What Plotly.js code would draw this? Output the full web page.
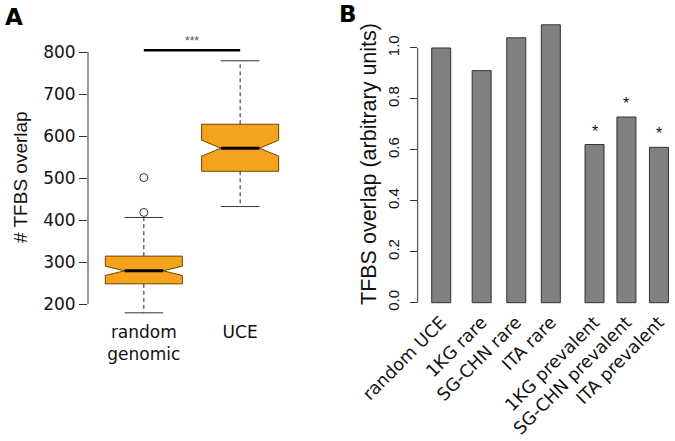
<!DOCTYPE html>
<html>
<head>
<meta charset="utf-8">
<script src="https://cdn.plot.ly/plotly-3.0.1.min.js"></script>
<style>html,body{margin:0;padding:0;background:#fff;}#chart{width:675px;height:441px;}</style>
</head>
<body>
<div id="chart"></div>
<script>
// ---------- Panel A data (box plot summary statistics) ----------
const boxCategories = ["random<br>genomic", "UCE"];
const boxLowerWhisker = [179, 432];
const boxQ1 = [248, 516];
const boxMedian = [279, 571];
const boxQ3 = [314, 628];
const boxUpperWhisker = [406, 779];
const boxNotchSpan = [11, 19];
const outliersRandom = [418, 501];
const yTicksA = [200, 300, 400, 500, 600, 700, 800];
const sigLevelA = 804;
const sigLabelA = "***";
const titleA = "# TFBS overlap";

// ---------- Panel B data ----------
const barCategories = ["random UCE", "1KG rare", "SG-CHN rare", "ITA rare",
  "1KG prevalent", "SG-CHN prevalent", "ITA prevalent"];
const barValues = [1.0, 0.911, 1.040, 1.091, 0.621, 0.729, 0.610];
const barMarks = ["", "", "", "", "*", "*", "*"];
const yTicksB = [0.0, 0.2, 0.4, 0.6, 0.8, 1.0];
const titleB = "TFBS overlap (arbitrary units)";

// ---------- layout/style constants ----------
const barSpaces = [0, 2.13, 1.82, 1.82, 2.30, 1.68, 1.71]; // spacing between bar centres (bar widths)
const boxHalf = 0.4, capHalf = 0.2, medHalf = 0.2;
const orange = "#F5A21C", boxEdge = "#6a4608";
const W = 675, H = 441;
const wide = "DejaVu Sans, Verdana, sans-serif";
const narrow = "Liberation Sans, Arial, Helvetica, sans-serif";

const traces = [];
const boxX = boxCategories.map((c, i) => i + 1);

boxX.forEach((x, i) => {
  traces.push({
    type: "box", x: [x], q1: [boxQ1[i]], median: [boxMedian[i]], q3: [boxQ3[i]],
    lowerfence: [boxLowerWhisker[i]], upperfence: [boxUpperWhisker[i]],
    notchspan: [boxNotchSpan[i]], notched: true, notchwidth: 0.25,
    showwhiskers: false, width: 2 * boxHalf, boxpoints: false,
    fillcolor: orange, line: {color: boxEdge, width: 1},
    xaxis: "x", yaxis: "y", hoverinfo: "skip"
  });
  traces.push({type: "scatter", mode: "lines", x: [x, x], y: [boxQ3[i], boxUpperWhisker[i]],
    line: {color: "#222", width: 1, dash: "4px,3px"}, xaxis: "x", yaxis: "y", hoverinfo: "skip"});
  traces.push({type: "scatter", mode: "lines", x: [x, x], y: [boxQ1[i], boxLowerWhisker[i]],
    line: {color: "#222", width: 1, dash: "4px,3px"}, xaxis: "x", yaxis: "y", hoverinfo: "skip"});
  [boxUpperWhisker[i], boxLowerWhisker[i]].forEach(v => {
    traces.push({type: "scatter", mode: "lines", x: [x - capHalf, x + capHalf], y: [v, v],
      line: {color: "#333", width: 1}, xaxis: "x", yaxis: "y", hoverinfo: "skip"});
  });
  traces.push({type: "scatter", mode: "lines", x: [x - medHalf, x + medHalf], y: [boxMedian[i], boxMedian[i]],
    line: {color: "#000", width: 3}, xaxis: "x", yaxis: "y", hoverinfo: "skip"});
});
traces.push({type: "scatter", mode: "markers", x: outliersRandom.map(() => boxX[0]), y: outliersRandom,
  marker: {symbol: "circle-open", size: 8, color: "#333", line: {width: 1}},
  xaxis: "x", yaxis: "y", hoverinfo: "skip"});
traces.push({type: "scatter", mode: "lines", x: [boxX[0], boxX[1]], y: [sigLevelA, sigLevelA],
  line: {color: "#000", width: 2.5}, xaxis: "x", yaxis: "y", hoverinfo: "skip", cliponaxis: false});

const barX = [];
barSpaces.reduce((acc, s) => { const v = acc + s; barX.push(v); return v; }, 0);
traces.push({type: "bar", x: barX, y: barValues, width: 1,
  marker: {color: "#808080", line: {color: "#333", width: 1}},
  xaxis: "x2", yaxis: "y2", hoverinfo: "skip"});

function px(a) {
  a.xref = "paper"; a.yref = "paper"; a.x = a.x / W; a.y = 1 - a.y / H;
  a.xanchor = "center"; a.yanchor = "middle"; a.showarrow = false; return a;
}
const annotations = [
  px({text: "<b>A</b>", x: 13.5, y: 16.5, font: {family: wide, size: 23, color: "#000"}}),
  px({text: "<b>B</b>", x: 347.5, y: 14, font: {family: wide, size: 23, color: "#000"}}),
  px({text: titleA, x: 20, y: 177, textangle: -90, font: {family: narrow, size: 19, color: "#111"}}),
  px({text: titleB, x: 369, y: 164, textangle: -90, font: {family: narrow, size: 21.5, color: "#111"}}),
  {text: sigLabelA, x: 1.5, y: sigLevelA, xref: "x", yref: "y", yanchor: "bottom", yshift: 0,
    showarrow: false, font: {family: narrow, size: 12, color: "#555"}}
];
barMarks.forEach((m, i) => {
  if (m) annotations.push({text: m, x: barX[i], y: barValues[i], xref: "x2", yref: "y2",
    yanchor: "bottom", yshift: 3, showarrow: false, font: {family: narrow, size: 16, color: "#111"}});
});

const layout = {
  width: W, height: H, margin: {l: 0, r: 0, t: 0, b: 0},
  paper_bgcolor: "#fff", plot_bgcolor: "#fff", showlegend: false,
  font: {family: wide, color: "#111"},
  xaxis: {domain: [88 / W, 296 / W], range: [0.42, 2.58], tickvals: boxX, ticktext: boxCategories,
    showgrid: false, zeroline: false, showline: false, ticks: "", tickfont: {family: wide, size: 17, color: "#111"},
    ticklabelstandoff: -3, anchor: "y"},
  yaxis: {domain: [(H - 322.9) / H, (H - 45.7) / H], range: [155, 815], tickvals: yTicksA,
    showgrid: false, zeroline: false, showline: false, ticks: "outside", ticklen: 8, tickcolor: "#333",
    tickfont: {family: wide, size: 17, color: "#111"}, anchor: "x"},
  xaxis2: {domain: [417.7 / W, 1], range: [-1.237, 12.305], tickvals: barX, ticktext: barCategories,
    tickangle: -45, showgrid: false, zeroline: false, showline: false, ticks: "",
    ticklabelstandoff: -6,
    tickfont: {family: wide, size: 17.5, color: "#111"}, anchor: "y2"},
  yaxis2: {domain: [(H - 313.8) / H, (H - 13.7) / H], range: [-0.0436, 1.1346], tickvals: yTicksB,
    tickformat: ".1f", tickangle: -90, showgrid: false, zeroline: false, showline: false,
    ticks: "outside", ticklen: 7, tickcolor: "#333", ticklabelstandoff: 5,
    tickfont: {family: narrow, size: 15, color: "#111"}, anchor: "x2"},
  shapes: [
    {type: "line", xref: "x domain", yref: "y", x0: 0, x1: 0, y0: yTicksA[0], y1: yTicksA[yTicksA.length - 1],
      line: {color: "#333", width: 1}},
    {type: "line", xref: "x2 domain", yref: "y2", x0: 0, x1: 0, y0: yTicksB[0], y1: yTicksB[yTicksB.length - 1],
      line: {color: "#333", width: 1}}
  ],
  annotations: annotations
};

Plotly.newPlot("chart", traces, layout, {displayModeBar: false, staticPlot: true});
</script>
</body>
</html>
